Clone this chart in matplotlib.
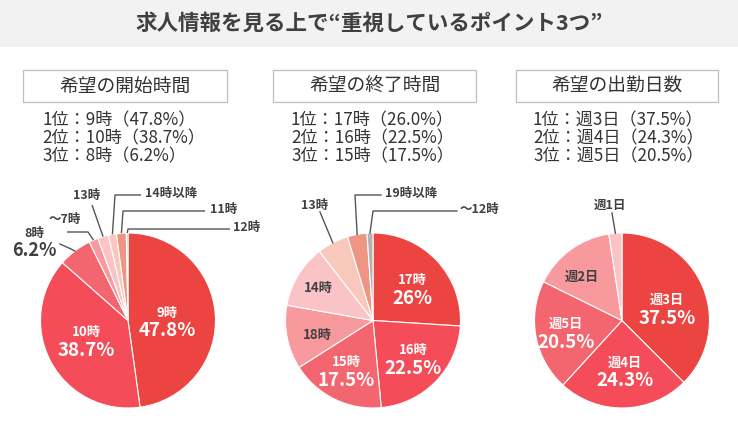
import matplotlib
matplotlib.use("Agg")
import matplotlib.pyplot as plt
from matplotlib.patches import Rectangle
import numpy as np

plt.rcParams['font.family'] = ['Noto Sans CJK JP', 'DejaVu Sans']

# ---------------- data ----------------
title = "求人情報を見る上で“重視しているポイント3つ”"
panel_titles = ["希望の開始時間", "希望の終了時間", "希望の出勤日数"]

start_labels = ["9時", "10時", "8時", "～7時", "13時", "14時以降", "11時", "12時"]
start_values = [47.8, 38.7, 6.2, 1.7, 2.0, 1.5, 1.8, 0.3]

end_labels = ["17時", "16時", "15時", "18時", "14時", "13時", "19時以降", "～12時"]
end_values = [26.0, 22.5, 17.5, 11.8, 11.7, 5.8, 3.6, 1.1]

days_labels = ["週3日", "週4日", "週5日", "週2日", "週1日"]
days_values = [37.5, 24.3, 20.5, 15.3, 2.4]

# ---------------- styles ----------------
C_RED1 = "#EC4440"
C_RED2 = "#F44C58"
C_RED3 = "#F4666F"
C_PINK4 = "#F7999D"
C_PINK5 = "#FAC4C7"
C_PEACH = "#F8C8BD"
C_SALMON = "#EE9683"
C_GRAY = "#B2B2B2"
DARK = "#404040"

start_colors = [C_RED1, C_RED2, C_RED3, C_PINK4, C_PINK5, C_PEACH, C_SALMON, C_GRAY]
end_colors = [C_RED1, C_RED2, C_RED3, C_PINK4, C_PINK5, C_PEACH, C_SALMON, C_GRAY]
days_colors = [C_RED1, C_RED2, C_RED3, C_PINK4, C_PINK5]

W, H = 738, 421
fig = plt.figure(figsize=(W / 100, H / 100), dpi=100)
ax = fig.add_axes([0, 0, 1, 1])

# banner
ax.add_patch(Rectangle((0, 0), W, 47, facecolor="#F2F2F2", edgecolor="none", zorder=0))
ax.text(W / 2, 23, title, ha="center", va="center", fontsize=15.5,
        fontweight="bold", color=DARK)

panel_x = [(23, 227), (273, 476), (516, 718)]
centers = [(128, 320.5), (373, 320.5), (622, 320.5)]
radius = 87.5
text_x = [42, 291, 533]

datasets = [
    (start_labels, start_values, start_colors),
    (end_labels, end_values, end_colors),
    (days_labels, days_values, days_colors),
]

all_wedges = []
for i, (labs, vals, cols) in enumerate(datasets):
    x0, x1 = panel_x[i]
    ax.add_patch(Rectangle((x0, 70), x1 - x0, 32, facecolor="white",
                           edgecolor="#BFBFBF", linewidth=0.9, zorder=1))
    ax.text((x0 + x1) / 2, 86.5, panel_titles[i], ha="center", va="center",
            fontsize=13.5, color="#333333")
    # ranking lines (top 3)
    order = np.argsort(vals)[::-1][:3]
    for k, idx in enumerate(order):
        ax.text(text_x[i], 120 + 18 * k, f"{k+1}位：{labs[idx]}（{vals[idx]:.1f}%）",
                ha="left", va="center", fontsize=12.3, color="#333333")
    wedges, _ = ax.pie(vals, colors=cols, startangle=-90, counterclock=True,
                       center=centers[i], radius=radius,
                       wedgeprops=dict(edgecolor="white", linewidth=0.8))
    all_wedges.append(wedges)


def anchor(w, rfrac=1.0):
    th = np.deg2rad((w.theta1 + w.theta2) / 2)
    cx, cy = w.center
    return cx + w.r * rfrac * np.cos(th), cy + w.r * rfrac * np.sin(th)


def inner(ax, x, y, cat, pct=None, color="white"):
    if pct is None:
        ax.text(x, y, cat, ha="center", va="center", fontsize=9.5,
                fontweight="bold", color=color)
    else:
        ax.text(x, y - 9, cat, ha="center", va="center", fontsize=9.5,
                fontweight="bold", color=color)
        ax.text(x, y + 9, pct, ha="center", va="center", fontsize=13.5,
                fontweight="bold", color=color)


def pct(v):
    return f"{v:g}%"


LC = "#555555"

# ---- chart 1 inner labels ----
w1 = all_wedges[0]
inner(ax, 167, 322, start_labels[0], pct(start_values[0]))
inner(ax, 86, 341, start_labels[1], pct(start_values[1]))

# chart 1 outside labels: (wedge idx, elbow points..., text pos, ha)
outs1 = [
    (7, [(128, 229), (230, 229)], (233, 228), "left"),
    (6, [(123, 211), (205, 211)], (210, 209), "left"),
    (5, [(115, 195), (141, 195)], (145, 193), "left"),
    (4, [(92, 205)], (87, 196), "center"),
    (3, [(88, 232), (67, 232)], (65, 220), "center"),
]
for idx, pts, tpos, ha in outs1:
    ax_, ay_ = anchor(w1[idx])
    xs = [ax_] + [p[0] for p in pts]
    ys = [ay_] + [p[1] for p in pts]
    ax.plot(xs, ys, color=LC, lw=1, solid_capstyle="butt")
    ax.text(tpos[0], tpos[1], start_labels[idx], ha=ha, va="center",
            fontsize=9, fontweight="bold", color=DARK)
# 8時 with percentage outside
a8 = anchor(w1[2])
ax.plot([a8[0], 71, 60], [a8[1], 249, 244], color=LC, lw=1)
ax.text(34, 233, start_labels[2], ha="center", va="center", fontsize=9,
        fontweight="bold", color=DARK)
ax.text(34, 251, pct(start_values[2]), ha="center", va="center", fontsize=13,
        fontweight="bold", color=DARK)

# ---- chart 2 ----
w2 = all_wedges[1]
inner(ax, 412, 289, end_labels[0], pct(end_values[0]))
inner(ax, 413, 359, end_labels[1], pct(end_values[1]))
inner(ax, 346, 371, end_labels[2], pct(end_values[2]))
inner(ax, 317, 335, end_labels[3], None, DARK)
inner(ax, 318, 288, end_labels[4], None, DARK)

outs2 = [
    (7, [(373, 211), (457, 211)], (460, 209), "left"),
    (6, [(355, 195), (381, 195)], (385, 193), "left"),
    (5, [(320, 212)], (315, 206), "center"),
]
for idx, pts, tpos, ha in outs2:
    ax_, ay_ = anchor(w2[idx])
    xs = [ax_] + [p[0] for p in pts]
    ys = [ay_] + [p[1] for p in pts]
    ax.plot(xs, ys, color=LC, lw=1)
    ax.text(tpos[0], tpos[1], end_labels[idx], ha=ha, va="center",
            fontsize=9, fontweight="bold", color=DARK)

# ---- chart 3 ----
w3 = all_wedges[2]
inner(ax, 667, 309, days_labels[0], pct(days_values[0]))
inner(ax, 625, 372, days_labels[1], pct(days_values[1]))
inner(ax, 566, 333, days_labels[2], pct(days_values[2]))
inner(ax, 582, 277, days_labels[3], None, DARK)
a1 = anchor(w3[4])
ax.plot([a1[0], 612], [a1[1], 213], color=LC, lw=1)
ax.text(610, 205, days_labels[4], ha="center", va="center", fontsize=9,
        fontweight="bold", color=DARK)

ax.set_xlim(0, W)
ax.set_ylim(H, 0)
ax.set_aspect("equal", adjustable="box")
ax.axis("off")
fig.savefig("out.png", dpi=100)
